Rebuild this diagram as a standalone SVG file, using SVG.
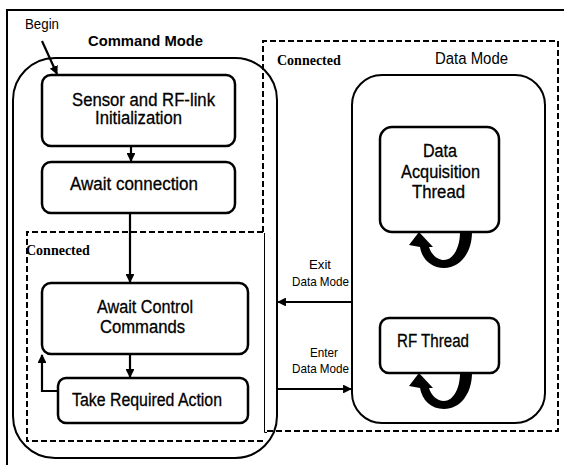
<svg xmlns="http://www.w3.org/2000/svg" width="564" height="465" viewBox="0 0 564 465">
  <style>
    .frame { fill: none; stroke: #000; stroke-width: 2; }
    .mode { fill: #fff; stroke: #000; stroke-width: 2; }
    .node { fill: #fff; stroke: #000; stroke-width: 2.5; }
    .dash { fill: none; stroke: #000; stroke-width: 2; stroke-dasharray: 6 3; }
    .thin { fill: none; stroke: #000; stroke-width: 1; }
    .edge { fill: none; stroke: #000; stroke-width: 2.2; }
    .lbl { font-family: "Liberation Sans", Arial, sans-serif; font-size: 18px; fill: #000; text-anchor: middle; stroke: #000; stroke-width: 0.3; }
    .small { font-family: "Liberation Sans", Arial, sans-serif; font-size: 13px; fill: #000; text-anchor: middle; }
    .title { font-family: "Liberation Sans", Arial, sans-serif; font-size: 15px; font-weight: bold; fill: #000; }
    .mode-name { font-family: "Liberation Sans", Arial, sans-serif; font-size: 16px; fill: #000; }
    .serif { font-family: "Liberation Serif", "Times New Roman", serif; font-size: 14px; font-weight: bold; fill: #000; }
  </style>
  <defs>
    <marker id="arrow" viewBox="0 0 10 10" refX="9" refY="5" markerWidth="4" markerHeight="4" markerUnits="strokeWidth" orient="auto">
      <path d="M0,0 L10,5 L0,10 Z" fill="#000"/>
    </marker>
    <!-- thick self-loop arrow hanging under a thread box; origin = box bottom centre -->
    <path id="selfloop" d="M19 0 L31 0 C31 21 19 36 3 36 C-10 36 -19 27 -21 15 L-32 13 L-22 0 L-8 15 L-12 15 C-10 22 -4 28 3 28 C12 28 19 16 19 0 Z" fill="#000"/>
  </defs>

  <rect width="564" height="465" fill="#fff"/>

  <!-- page frame -->
  <path class="frame" d="M7 465 L7 10 L564 10"/>

  <!-- Command Mode container -->
  <g id="command-mode">
    <rect class="mode" x="13" y="58" width="264" height="400" rx="42" ry="42"/>
    <text class="title" x="88" y="46" textLength="115" lengthAdjust="spacingAndGlyphs">Command Mode</text>
  </g>

  <!-- inner Connected region -->
  <g id="connected-inner">
    <path class="dash" d="M263 232 L27 232 L27 441 L263 441"/>
    <path class="thin" d="M264.5 233 L264.5 432.5 L267 432.5"/>
    <text class="serif" x="26" y="255">Connected</text>
  </g>

  <!-- outer Connected region -->
  <g id="connected-outer">
    <path class="dash" d="M263 232 L263 41 L558 41 L558 431 L267 431"/>
    <text class="serif" x="277" y="65">Connected</text>
  </g>

  <!-- Data Mode container -->
  <g id="data-mode">
    <rect class="mode" x="352" y="75" width="193" height="348" rx="30" ry="30"/>
    <text class="mode-name" x="435" y="64" textLength="73" lengthAdjust="spacingAndGlyphs">Data Mode</text>
  </g>

  <g id="begin">
    <text x="25" y="29" font-family="Liberation Sans, Arial, sans-serif" font-size="14" textLength="34" lengthAdjust="spacingAndGlyphs">Begin</text>
  </g>

  <g id="init">
    <rect class="node" x="42" y="75" width="193" height="71" rx="9"/>
    <text class="lbl" x="143.5" y="106" textLength="143" lengthAdjust="spacingAndGlyphs">Sensor and RF-link</text>
    <text class="lbl" x="138.5" y="124" textLength="87" lengthAdjust="spacingAndGlyphs">Initialization</text>
  </g>

  <g id="await-connection">
    <rect class="node" x="42" y="162" width="193" height="51" rx="9"/>
    <text class="lbl" x="134" y="190" textLength="128" lengthAdjust="spacingAndGlyphs">Await connection</text>
  </g>

  <g id="await-commands">
    <rect class="node" x="42" y="283" width="206" height="71" rx="9"/>
    <text class="lbl" x="145" y="313" textLength="96" lengthAdjust="spacingAndGlyphs">Await Control</text>
    <text class="lbl" x="142.5" y="333" textLength="85" lengthAdjust="spacingAndGlyphs">Commands</text>
  </g>

  <g id="take-action">
    <rect class="node" x="58" y="378" width="190" height="45" rx="8"/>
    <text class="lbl" x="147" y="406" textLength="150" lengthAdjust="spacingAndGlyphs">Take Required Action</text>
  </g>

  <g id="acquisition-thread">
    <rect class="node" x="380" y="127" width="119" height="105" rx="12"/>
    <text class="lbl" x="440" y="157" textLength="34" lengthAdjust="spacingAndGlyphs">Data</text>
    <text class="lbl" x="440.5" y="178" textLength="79" lengthAdjust="spacingAndGlyphs">Acquisition</text>
    <text class="lbl" x="438.5" y="198" textLength="53" lengthAdjust="spacingAndGlyphs">Thread</text>
  </g>

  <g id="rf-thread">
    <rect class="node" x="380" y="318" width="119" height="55" rx="9"/>
    <text class="lbl" x="433" y="347" textLength="72" lengthAdjust="spacingAndGlyphs">RF Thread</text>
  </g>

  <!-- connectors -->
  <g id="connectors">
    <line class="edge" x1="42" y1="41" x2="57" y2="74" marker-end="url(#arrow)"/>
    <line class="edge" x1="131" y1="146" x2="131" y2="161" marker-end="url(#arrow)"/>
    <line class="edge" x1="130" y1="213" x2="130" y2="282" marker-end="url(#arrow)"/>
    <line class="edge" x1="130" y1="354" x2="130" y2="377" marker-end="url(#arrow)"/>
    <path class="edge" d="M58 391 L42 391 L42 355" marker-end="url(#arrow)"/>
    <line class="edge" x1="352" y1="302" x2="278" y2="302" marker-end="url(#arrow)"/>
    <line class="edge" x1="277" y1="389" x2="351" y2="389" marker-end="url(#arrow)"/>
    <use href="#selfloop" x="441" y="232"/>
    <use href="#selfloop" x="441" y="373"/>
    <text class="small" x="320" y="269" textLength="22" lengthAdjust="spacingAndGlyphs">Exit</text>
    <text class="small" x="320.5" y="286" textLength="57" lengthAdjust="spacingAndGlyphs">Data Mode</text>
    <text class="small" x="324" y="357" textLength="28" lengthAdjust="spacingAndGlyphs">Enter</text>
    <text class="small" x="320.5" y="373" textLength="57" lengthAdjust="spacingAndGlyphs">Data Mode</text>
  </g>
</svg>
